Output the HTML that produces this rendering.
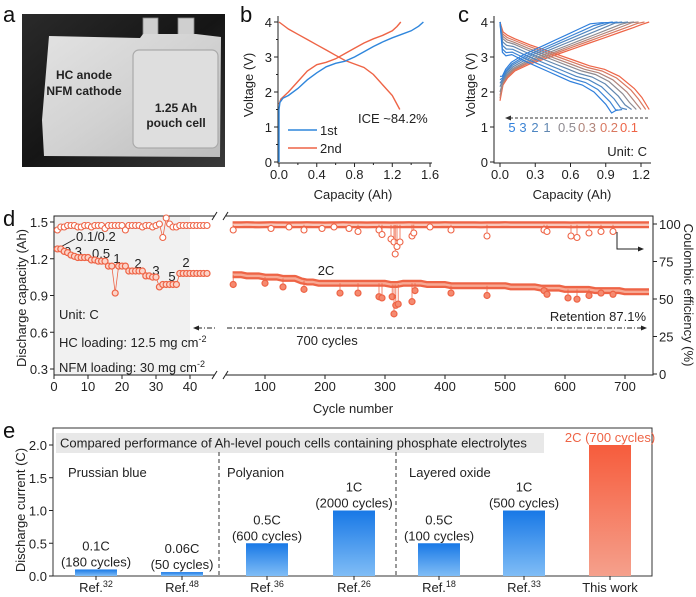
<!DOCTYPE html>
<html><head><meta charset="utf-8"><style>
html,body{margin:0;padding:0;background:#fff;}
svg{display:block;font-family:"Liberation Sans",Arial,sans-serif;}
.t{font-size:13px;fill:#222;}
.pl{font-size:22px;fill:#111;}
</style></head><body>
<svg id="fig" width="696" height="597" viewBox="0 0 696 597" xmlns="http://www.w3.org/2000/svg">
<defs>
<linearGradient id="bgG" x1="0" y1="0" x2="1" y2="1"><stop offset="0" stop-color="#2a2a2a"/><stop offset="0.5" stop-color="#151515"/><stop offset="1" stop-color="#3a3a3a"/></linearGradient>
<linearGradient id="pouchG" x1="0" y1="0" x2="1" y2="1"><stop offset="0" stop-color="#e2e2e2"/><stop offset="0.5" stop-color="#d2d2d2"/><stop offset="1" stop-color="#bcbcbc"/></linearGradient>
<linearGradient id="blueG" x1="0" y1="0" x2="0" y2="1"><stop offset="0" stop-color="#1878e6"/><stop offset="1" stop-color="#80bdf6"/></linearGradient>
<linearGradient id="redG" x1="0" y1="0" x2="0" y2="1"><stop offset="0" stop-color="#f65c3c"/><stop offset="1" stop-color="#f5a08c"/></linearGradient>
</defs>

<!-- panel a -->
<text class="pl" x="3" y="22">a</text>
<g>
<rect x="22" y="14" width="203" height="153" fill="url(#bgG)"/>
<rect x="143" y="18" width="15" height="18" fill="#cfcfcf" stroke="#888" stroke-width="0.8"/>
<rect x="178" y="18" width="16" height="18" fill="#cfcfcf" stroke="#888" stroke-width="0.8"/>
<polygon points="49,36 140,38 143,34 196,34 221,37 220,157 44,156 42,120" fill="url(#pouchG)"/>
<rect x="133" y="50" width="85" height="98" rx="6" fill="#dedede" stroke="#aaa" stroke-width="1.2"/>
<text x="84" y="79" text-anchor="middle" font-size="12" font-weight="bold" fill="#222">HC anode</text>
<text x="84" y="95" text-anchor="middle" font-size="12" font-weight="bold" fill="#222">NFM cathode</text>
<text x="176" y="112" text-anchor="middle" font-size="12" font-weight="bold" fill="#222">1.25 Ah</text>
<text x="176" y="127" text-anchor="middle" font-size="12" font-weight="bold" fill="#222">pouch cell</text>
</g>

<text class="pl" x="240" y="22">b</text>
<text class="pl" x="458" y="22">c</text>
<text class="pl" x="3" y="226">d</text>
<text class="pl" x="3" y="438">e</text>

<!-- b titles -->
<text class="t" x="353" y="199" text-anchor="middle">Capacity (Ah)</text>
<text class="t" transform="translate(253,85) rotate(-90)" text-anchor="middle">Voltage (V)</text>
<line x1="288" y1="130" x2="317" y2="130" stroke="#2f86dc" stroke-width="1.6"/>
<text class="t" x="320" y="135">1st</text>
<line x1="288" y1="148" x2="317" y2="148" stroke="#ee6446" stroke-width="1.6"/>
<text class="t" x="320" y="153">2nd</text>
<text class="t" x="358" y="123">ICE ~84.2%</text>

<!-- c titles -->
<text class="t" x="572" y="199" text-anchor="middle">Capacity (Ah)</text>
<text class="t" transform="translate(475,85) rotate(-90)" text-anchor="middle">Voltage (V)</text>
<line x1="648" y1="118" x2="509" y2="118" stroke="#333" stroke-width="1" stroke-dasharray="3,2"/>
<polygon points="505,118 511,115.5 511,120.5" fill="#333"/>
<g font-size="13">
<text x="512" y="132" text-anchor="middle" fill="#2f7fdc">5</text>
<text x="523" y="132" text-anchor="middle" fill="#3d84d4">3</text>
<text x="535" y="132" text-anchor="middle" fill="#4e86c2">2</text>
<text x="547" y="132" text-anchor="middle" fill="#6287b0">1</text>
<text x="567" y="132" text-anchor="middle" fill="#8e8a90">0.5</text>
<text x="587" y="132" text-anchor="middle" fill="#b0847a">0.3</text>
<text x="609" y="132" text-anchor="middle" fill="#d97860">0.2</text>
<text x="629" y="132" text-anchor="middle" fill="#ee6446">0.1</text>
</g>
<text class="t" x="647" y="156" text-anchor="end">Unit: C</text>

<!-- d static -->
<rect x="54" y="216" width="136" height="159" fill="#f1f1f1"/>
<text class="t" transform="translate(26,298) rotate(-90)" text-anchor="middle">Discharge capacity (Ah)</text>
<text class="t" transform="translate(684,295) rotate(90)" text-anchor="middle">Coulombic efficiency (%)</text>
<text class="t" x="353" y="413" text-anchor="middle">Cycle number</text>
<text class="t" x="59" y="319">Unit: C</text>
<text class="t" x="59" y="347">HC loading: 12.5 mg cm<tspan dy="-5" font-size="9">-2</tspan></text>
<text class="t" x="59" y="372">NFM loading: 30 mg cm<tspan dy="-5" font-size="9">-2</tspan></text>
<text class="t" x="646" y="321" text-anchor="end" fill="#ee6446">Retention 87.1%</text>
<line x1="197" y1="328" x2="642" y2="328" stroke="#222" stroke-width="1" stroke-dasharray="5,2,1,2"/>
<polygon points="193,328 199,325.5 199,330.5" fill="#222"/>
<polygon points="647,328 641,325.5 641,330.5" fill="#222"/>
<text class="t" x="327" y="345" text-anchor="middle">700 cycles</text>
<text class="t" x="326" y="275" text-anchor="middle">2C</text>
<polyline points="617,232 617,249 640,249" fill="none" stroke="#222" stroke-width="1"/>
<polygon points="644,249 638,246.5 638,251.5" fill="#222"/>
<line x1="57" y1="249" x2="75" y2="239" stroke="#222" stroke-width="1"/>
<g font-size="13" fill="#222">
<text x="76" y="241">0.1/0.2</text>
<text x="73" y="256" text-anchor="middle">0.3</text>
<text x="92" y="258">0.5</text>
<text x="117" y="263" text-anchor="middle">1</text>
<text x="138" y="268" text-anchor="middle">2</text>
<text x="156" y="275" text-anchor="middle">3</text>
<text x="172" y="281" text-anchor="middle">5</text>
<text x="186" y="267" text-anchor="middle">2</text>
</g>

<!-- e static -->
<rect x="56" y="433" width="488" height="20" fill="#e8e8e8"/>
<text class="t" x="60" y="447.5">Compared performance of Ah-level pouch cells containing phosphate electrolytes</text>
<text class="t" x="68" y="477">Prussian blue</text>
<text class="t" x="227" y="477">Polyanion</text>
<text class="t" x="409" y="477">Layered oxide</text>
<line x1="219" y1="452" x2="219" y2="576" stroke="#333" stroke-dasharray="4,3"/>
<line x1="396" y1="452" x2="396" y2="576" stroke="#333" stroke-dasharray="4,3"/>
<text class="t" transform="translate(25,510) rotate(-90)" text-anchor="middle">Discharge current (C)</text>
</svg>
<script>
// ---------- data ----------
const b1Cap=[0,0,0.01,0.04,0.1,0.2,0.3,0.4,0.5,0.6,0.7,0.8,0.9,1.0,1.1,1.2,1.3,1.4,1.48,1.53];
const b1V=[0,1.5,1.7,1.82,1.9,2.1,2.35,2.55,2.72,2.82,2.88,3.0,3.15,3.3,3.43,3.55,3.65,3.75,3.88,4.0];
const b2ChCap=[0,0.02,0.1,0.2,0.3,0.4,0.5,0.6,0.7,0.8,0.9,1.0,1.1,1.2,1.25,1.29];
const b2ChV=[1.65,1.8,2.0,2.3,2.6,2.78,2.85,2.95,3.1,3.25,3.4,3.52,3.62,3.75,3.87,4.0];
const b2DisCap=[0,0.05,0.1,0.2,0.3,0.4,0.5,0.6,0.7,0.8,0.9,1.0,1.1,1.2,1.28];
const b2DisV=[4.0,3.9,3.8,3.65,3.5,3.35,3.2,3.05,2.9,2.8,2.7,2.5,2.2,1.9,1.5];
const bXTicks=["0.0","0.4","0.8","1.2","1.6"];
const vTicks=["0","1","2","3","4"];
const cRates=["5","3","2","1","0.5","0.3","0.2","0.1"];
const cDisCapacity=[1.0,1.04,1.08,1.12,1.16,1.2,1.24,1.27];
const cChCapacity=[0.96,1.0,1.04,1.09,1.14,1.18,1.23,1.27];
const cDisPolar=[0.45,0.38,0.3,0.22,0.15,0.1,0.05,0];
const cChPolar=[0.25,0.2,0.16,0.12,0.08,0.05,0.03,0];
const cChStart=[2.45,2.35,2.25,2.15,2.0,1.9,1.82,1.75];
const cColors=["#2f7fdc","#3d84d4","#4e86c2","#6287b0","#8e8a90","#b0847a","#d97860","#ee6446"];
const cShapeFrac=[0,0.02,0.05,0.1,0.2,0.3,0.4,0.5,0.6,0.7,0.8,0.9,0.95,1];
const cDisShape=[4.0,3.72,3.62,3.52,3.35,3.2,3.05,2.9,2.75,2.65,2.45,2.1,1.85,1.5];
const cChShape=[0,2.2,2.4,2.6,2.8,2.95,3.1,3.25,3.4,3.55,3.7,3.85,3.93,4.0];
const cXTicks=["0.0","0.3","0.6","0.9","1.2"];
const dLeftCap=[1.28,1.28,1.26,1.25,1.23,1.22,1.21,1.21,1.21,1.21,1.19,1.19,1.18,1.18,1.18,1.14,1.14,0.92,1.14,1.14,1.14,1.10,1.10,1.10,1.10,1.10,1.06,1.06,1.05,1.05,0.97,0.99,0.99,0.99,0.99,0.99,1.08,1.08,1.08,1.08,1.08,1.08,1.08,1.08,1.08];
const dLeftCE=[96,98,98,99,99,99,98,98,99,99,98,99,99,99,97,99,99,99,99,99,96,99,99,99,99,98,99,99,98,99,100,91,104,100,98,98,99,99,99,99,99,99,99,99,99];
const dRightCycles=[46,60,70,80,90,100,110,120,130,140,150,160,170,180,190,200,210,220,230,240,250,260,270,280,290,300,310,320,330,340,350,360,370,380,390,400,410,420,430,440,450,460,470,480,490,500,510,520,530,540,550,560,570,580,590,600,610,620,630,640,650,660,670,680,690,700,710,720,730,740];
const dRightCap=[1.07,1.07,1.06,1.06,1.06,1.05,1.05,1.05,1.04,1.04,1.04,1.02,1.01,1.01,1.0,1.0,1.0,1.0,1.0,1.0,1.0,1.0,1.0,1.0,1.0,1.0,0.99,0.99,1.0,1.0,1.0,1.0,0.99,0.99,0.99,0.99,0.98,0.98,0.98,0.98,0.98,0.98,0.98,0.98,0.98,0.98,0.97,0.97,0.97,0.97,0.97,0.96,0.96,0.96,0.96,0.95,0.95,0.95,0.95,0.95,0.94,0.94,0.94,0.94,0.94,0.93,0.93,0.93,0.93,0.93];
const dRightCE=[99.5,99.5,99.6,99.5,99.4,99.5,99.6,99.5,99.5,99.4,99.5,99.5,99.6,99.5,99.5,99.4,99.5,99.5,99.6,99.5,99.5,99.5,99.4,99.5,99.5,99.5,99.4,99.5,99.5,99.6,99.5,99.5,99.5,99.5,99.5,99.6,99.5,99.5,99.5,99.5,99.5,99.4,99.5,99.5,99.5,99.6,99.5,99.5,99.5,99.5,99.5,99.5,99.5,99.5,99.5,99.5,99.4,99.5,99.5,99.5,99.5,99.5,99.5,99.5,99.5,99.5,99.5,99.5,99.5,99.5];
const dCapDipCycles=[47,100,130,165,225,255,290,295,312,315,318,322,345,350,410,470,565,570,605,620,640,660,680];
const dCapDipValues=[0.99,1.0,0.97,0.95,0.92,0.92,0.89,0.88,0.89,0.75,0.82,0.83,0.85,0.94,0.92,0.9,0.94,0.91,0.88,0.87,0.9,0.92,0.91];
const dCEDipCycles=[47,110,140,165,195,215,240,255,290,295,310,315,317,320,325,345,348,375,410,470,565,570,610,620,640,660,680];
const dCEDipValues=[96,97,98,96,97,98,97,95,96,93,90,88,80,85,88,92,94,98,96,92,96,95,92,91,94,95,95];
const dLeftXTicks=[0,10,20,30,40];
const dRightXTicks=[100,200,300,400,500,600,700];
const dCapTicks=[0.3,0.6,0.9,1.2,1.5];
const dCETicks=[0,25,50,75,100];
const eRefs=["32","48","36","26","18","33",""];
const eValues=[0.1,0.06,0.5,1,0.5,1,2];
const eRateText=["0.1C","0.06C","0.5C","1C","0.5C","1C","2C"];
const eCycleText=["(180 cycles)","(50 cycles)","(600 cycles)","(2000 cycles)","(100 cycles)","(500 cycles)","(700 cycles)"];
const eYTicks=[0,0.5,1.0,1.5,2.0];

// ---------- helpers ----------
const NS='http://www.w3.org/2000/svg';
const svg=document.getElementById('fig');
function mk(tag,attrs,parent){const e=document.createElementNS(NS,tag);for(const k in attrs)e.setAttribute(k,attrs[k]);(parent||svg).appendChild(e);return e;}
function tx(x,y,s,attrs,parent){const e=mk('text',Object.assign({x:x,y:y,'font-size':13,fill:'#222'},attrs||{}),parent);e.textContent=s;return e;}
function pts(xs,ys,fx,fy){return xs.map((x,i)=>fx(x).toFixed(1)+','+fy(ys[i]).toFixed(1)).join(' ');}
const RED='#ee6446';
let el;

// ---------- panel b ----------
const bx=c=>279+c*94.4, vy=v=>162-v*35;
el=mk('path',{d:'M278,16 V163 H432',fill:'none',stroke:'#222','stroke-width':1});


bXTicks.forEach((t,i)=>{const x=bx(+t);
 el=mk('line',{x1:x,y1:163,x2:x,y2:167,stroke:'#222'});
 
 
 el=tx(x,179,t,{'text-anchor':'middle'});
 
 
 if(i<bXTicks.length-1){el=mk('line',{x1:bx(+t+0.2),y1:163,x2:bx(+t+0.2),y2:165,stroke:'#222'});
 
 }
});
vTicks.forEach((t,i)=>{const y=vy(+t);
 el=mk('line',{x1:274,y1:y,x2:278,y2:y,stroke:'#222'});
 
 
 el=tx(272,y+5,t,{'text-anchor':'end'});
 
 
 if(i<vTicks.length-1){el=mk('line',{x1:276,y1:vy(+t+0.5),x2:278,y2:vy(+t+0.5),stroke:'#222'});
 
 }
});
el=mk('polyline',{points:pts(b2ChCap,b2ChV,bx,vy),fill:'none',stroke:RED,'stroke-width':1.4});


el=mk('polyline',{points:pts(b2DisCap,b2DisV,bx,vy),fill:'none',stroke:RED,'stroke-width':1.4});


el=mk('polyline',{points:pts(b1Cap,b1V,bx,vy),fill:'none',stroke:'#2f86dc','stroke-width':1.4});



// ---------- panel c ----------
const cx=c=>500+c*117.5;
el=mk('path',{d:'M494,16 V163 H651',fill:'none',stroke:'#222','stroke-width':1});


cXTicks.forEach((t)=>{const x=cx(+t);
 el=mk('line',{x1:x,y1:163,x2:x,y2:167,stroke:'#222'});
 
 
 el=tx(x,179,t,{'text-anchor':'middle'});
 
 
});
vTicks.forEach((t)=>{const y=vy(+t);
 el=mk('line',{x1:490,y1:y,x2:494,y2:y,stroke:'#222'});
 
 
 el=tx(488,y+5,t,{'text-anchor':'end'});
 
 
});
for(let k=cRates.length-1;k>=0;k--){
 const dV=cDisShape.map((v,i)=>i===0?v:(i===cDisShape.length-1?v:v-cDisPolar[k]*(i<3?1.3:1)));
 const dC=cShapeFrac.map(f=>f*cDisCapacity[k]);
 el=mk('polyline',{points:pts(dC,dV,cx,vy),fill:'none',stroke:cColors[k],'stroke-width':1.2});
 
 
 const chV=cChShape.map((v,i)=>i===0?cChStart[k]:(i===cChShape.length-1?v:Math.min(3.98,v+cChPolar[k])));
 const chC=cShapeFrac.map(f=>f*cChCapacity[k]);
 el=mk('polyline',{points:pts(chC,chV,cx,vy),fill:'none',stroke:cColors[k],'stroke-width':1.2});
 
 
}

// ---------- panel d ----------
const dxL=c=>54+c*3.4, dxR=c=>505+(c-500)*0.6;
const capY=v=>369-(v-0.3)*122.5, ceY=p=>374-p*1.5;
el=mk('rect',{x:54,y:216,width:599,height:159,fill:'none',stroke:'#222','stroke-width':1});


el=mk('rect',{x:215,y:212,width:11,height:167,fill:'#fff'});


[[212,217],[223,228]].forEach(p=>{[216,375].forEach(y=>{
 el=mk('line',{x1:p[0],y1:y+4,x2:p[1],y2:y-4,stroke:'#222'});
 
 
});});
dLeftXTicks.forEach(c=>{const x=dxL(c);
 el=mk('line',{x1:x,y1:375,x2:x,y2:379,stroke:'#222'});
 
 
 el=tx(x,391,String(c),{'text-anchor':'middle'});
 
 
});
dRightXTicks.forEach(c=>{const x=dxR(c);
 el=mk('line',{x1:x,y1:375,x2:x,y2:379,stroke:'#222'});
 
 
 el=tx(x,391,String(c),{'text-anchor':'middle'});
 
 
});
dCapTicks.forEach(v=>{const y=capY(v);
 el=mk('line',{x1:50,y1:y,x2:54,y2:y,stroke:'#222'});
 
 
 el=tx(48,y+5,v.toFixed(1),{'text-anchor':'end'});
 
 
});
dCETicks.forEach(v=>{const y=ceY(v);
 el=mk('line',{x1:653,y1:y,x2:657,y2:y,stroke:'#222'});
 
 
 el=tx(659,y+5,String(v),{'text-anchor':'start'});
 
 
});
const gL=mk('g',{});


el=mk('polyline',{points:dLeftCap.map((v,i)=>dxL(i+1).toFixed(1)+','+capY(v).toFixed(1)).join(' '),fill:'none',stroke:RED,'stroke-width':0.8},gL);


el=mk('polyline',{points:dLeftCE.map((v,i)=>dxL(i+1).toFixed(1)+','+ceY(v).toFixed(1)).join(' '),fill:'none',stroke:RED,'stroke-width':0.8},gL);


dLeftCap.forEach((v,i)=>{
 el=mk('circle',{cx:dxL(i+1),cy:capY(v),r:3,fill:'#fbd3c8',stroke:RED,'stroke-width':1.2},gL);
 
 
});
dLeftCE.forEach((v,i)=>{
 el=mk('circle',{cx:dxL(i+1),cy:ceY(v),r:3,fill:'#fff',stroke:RED,'stroke-width':1.1},gL);
 
 
});
const gR=mk('g',{});


function band(vals,fy,name,fill){
 const p=vals.map((v,i)=>dxR(dRightCycles[i]).toFixed(1)+','+fy(v).toFixed(1)).join(' ');
 el=mk('polyline',{points:p,fill:'none',stroke:RED,'stroke-width':7,'stroke-linejoin':'round'},gR);
 
 
 el=mk('polyline',{points:p,fill:'none',stroke:fill,'stroke-width':2.4,'stroke-linejoin':'round'},gR);
 
 
}
band(dRightCap,capY,'capacity','#f7a994');
band(dRightCE,ceY,'ce','#f9c8bb');
function baseAt(cyc,vals){let k=0;while(k<dRightCycles.length-1&&dRightCycles[k+1]<=cyc)k++;return vals[k];}
dCapDipCycles.forEach((c,i)=>{const x=dxR(c);
 el=mk('line',{x1:x,y1:capY(baseAt(c,dRightCap)),x2:x,y2:capY(dCapDipValues[i]),stroke:RED,'stroke-width':0.8},gR);
 
 
 el=mk('circle',{cx:x,cy:capY(dCapDipValues[i]),r:3,fill:'#f58a70',stroke:RED,'stroke-width':1.2},gR);
 
 
});
dCEDipCycles.forEach((c,i)=>{const x=dxR(c);
 el=mk('line',{x1:x,y1:ceY(baseAt(c,dRightCE)),x2:x,y2:ceY(dCEDipValues[i]),stroke:RED,'stroke-width':0.8},gR);
 
 
 el=mk('circle',{cx:x,cy:ceY(dCEDipValues[i]),r:3,fill:'#fff',stroke:RED,'stroke-width':1.1},gR);
 
 
});

// ---------- panel e ----------
const ey=v=>576-v*65.5;
const ebx=i=>[96,182,267,354,439,524,610][i];
el=mk('rect',{x:53,y:428,width:599,height:148,fill:'none',stroke:'#333','stroke-width':1});


eYTicks.forEach(v=>{const y=ey(v);
 el=mk('line',{x1:49,y1:y,x2:53,y2:y,stroke:'#222'});
 
 
 el=tx(47,y+5,v.toFixed(1),{'text-anchor':'end'});
 
 
});
eValues.forEach((v,i)=>{const x=ebx(i),top=ey(v),last=i===eValues.length-1;
 el=mk('rect',{x:x-21,y:top,width:42,height:576-top,fill:last?'url(#redG)':'url(#blueG)'});
 
 
 if(last){
  el=tx(x,top-3,eRateText[i]+' '+eCycleText[i],{'text-anchor':'middle',fill:RED});
  
  
 } else {
  el=tx(x,top-19,eRateText[i],{'text-anchor':'middle'});
  
  
  el=tx(x,top-3,eCycleText[i],{'text-anchor':'middle'});
  
  
 }
 el=mk('line',{x1:x,y1:576,x2:x,y2:580,stroke:'#222'});
 
 
 el=tx(x,592,last?'This work':'Ref.',{'text-anchor':'middle'});
 
 
 if(!last){const s=mk('tspan',{dy:-5,'font-size':9},el);s.textContent=eRefs[i];}
});
</script>
</body></html>
